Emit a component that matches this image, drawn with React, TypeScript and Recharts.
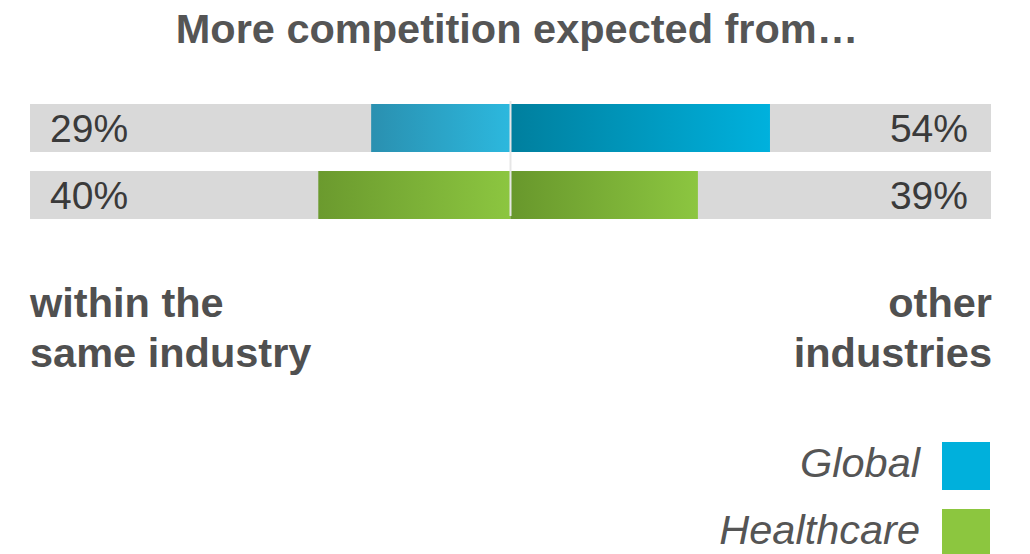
import { BarChart, Bar, XAxis, YAxis, Cell, ReferenceLine } from 'recharts';

// rows of the chart
const categories = ['Global', 'Healthcare'];
// "within the same industry" (drawn to the left of zero)
const sameIndustry = [29, 40];
// "other industries" (drawn to the right of zero)
const otherIndustries = [54, 39];

const title = 'More competition expected from…';
const leftCaption = ['within the', 'same industry'];
const rightCaption = ['other', 'industries'];

const legendColors = ['#00b0dc', '#8cc63f'];

const data = categories.map((name, i) => ({
  name,
  left: -sameIndustry[i],
  right: otherIndustries[i],
}));

const FONT = '"Liberation Sans", Arial, Helvetica, sans-serif';

// gradient stops [from left edge, to right edge]
const leftGradients = [
  ['#2a90b0', '#2cb8de'],
  ['#6b9a2e', '#8cc640'],
];
const rightGradients = [
  ['#007f9e', '#00b1dd'],
  ['#68972c', '#8cc640'],
];

const renderBackground = (props: any) => {
  const { x, y, width, height, index } = props;
  const baseline = y + height / 2 + 14;
  return (
    <g key={`bg-${index}`}>
      <rect x={x} y={y} width={width} height={height} fill="#d9d9d9" />
      <text x={x + 20} y={baseline} fontFamily={FONT} fontSize={39} fill="#3a3a3a">
        {sameIndustry[index]}%
      </text>
      <text x={x + width - 23} y={baseline} textAnchor="end" fontFamily={FONT} fontSize={39} fill="#3a3a3a">
        {otherIndustries[index]}%
      </text>
    </g>
  );
};

export default function App() {
  return (
    <div style={{ position: 'absolute', left: 0, top: 0, width: 1030, height: 554, background: '#fff', overflow: 'hidden' }}>
      <svg width={1030} height={554} style={{ position: 'absolute', left: 0, top: 0 }}>
        <text x={517} y={43} textAnchor="middle" fontFamily={FONT} fontWeight="bold" fontSize={41.5} fill="#555">
          {title}
        </text>
        {leftCaption.map((line, i) => (
          <text key={line} x={30} y={317 + i * 50} fontFamily={FONT} fontWeight="bold" fontSize={41.5} fill="#505050">
            {line}
          </text>
        ))}
        {rightCaption.map((line, i) => (
          <text key={line} x={992} y={317 + i * 50} textAnchor="end" fontFamily={FONT} fontWeight="bold" fontSize={41.5} fill="#505050">
            {line}
          </text>
        ))}
        {categories.map((c, i) => (
          <g key={c}>
            <text x={920} y={477 + i * 67} textAnchor="end" fontFamily={FONT} fontStyle="italic" fontSize={41.5} fill="#555">
              {c}
            </text>
            <rect x={942} y={442 + i * 67} width={48} height={48} fill={legendColors[i]} />
          </g>
        ))}
      </svg>
      <div style={{ position: 'absolute', left: 0, top: 0 }}>
        <BarChart
          width={1030}
          height={230}
          data={data}
          layout="vertical"
          stackOffset="sign"
          barSize={48}
          margin={{ top: 94, right: 39, left: 30, bottom: 2 }}
        >
          <defs>
            {categories.map((c, i) => (
              <linearGradient key={`gl-${c}`} id={`gradLeft${i}`} x1="0" y1="0" x2="1" y2="0">
                <stop offset="0%" stopColor={leftGradients[i][0]} />
                <stop offset="100%" stopColor={leftGradients[i][1]} />
              </linearGradient>
            ))}
            {categories.map((c, i) => (
              <linearGradient key={`gr-${c}`} id={`gradRight${i}`} x1="0" y1="0" x2="1" y2="0">
                <stop offset="0%" stopColor={rightGradients[i][0]} />
                <stop offset="100%" stopColor={rightGradients[i][1]} />
              </linearGradient>
            ))}
          </defs>
          <XAxis type="number" domain={[-100, 100]} hide />
          <YAxis type="category" dataKey="name" hide />
          <Bar dataKey="left" stackId="a" background={renderBackground} isAnimationActive={false}>
            {data.map((entry, index) => (
              <Cell key={`l-${entry.name}`} fill={`url(#gradLeft${index})`} />
            ))}
          </Bar>
          <Bar dataKey="right" stackId="a" isAnimationActive={false}>
            {data.map((entry, index) => (
              <Cell key={`r-${entry.name}`} fill={`url(#gradRight${index})`} />
            ))}
          </Bar>
          <ReferenceLine
            x={0}
            stroke="#e6e6e6"
            strokeWidth={2}
            shape={(p: any) => (
              <line x1={p.x1} x2={p.x2} y1={Math.min(p.y1, p.y2) + 7} y2={Math.max(p.y1, p.y2) - 12} stroke="#e6e6e6" strokeWidth={2} />
            )}
          />
        </BarChart>
      </div>
    </div>
  );
}
